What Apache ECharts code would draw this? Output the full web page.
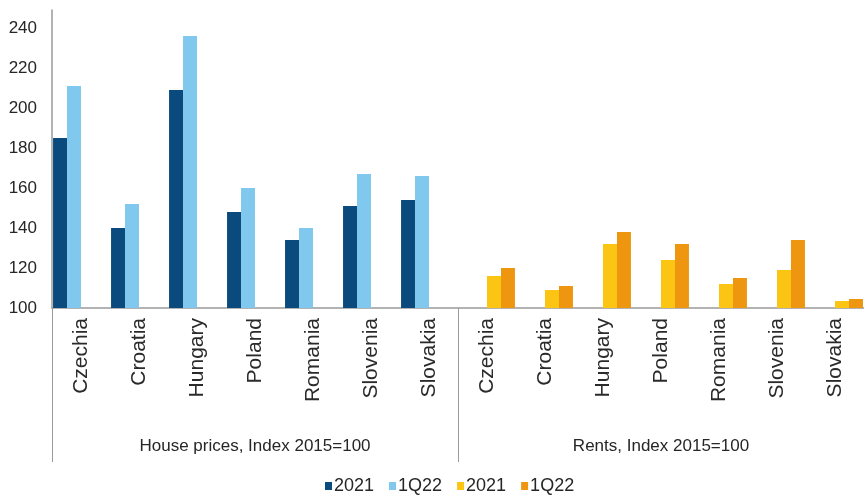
<!DOCTYPE html>
<html>
<head>
<meta charset="utf-8">
<script src="https://cdn.jsdelivr.net/npm/echarts@6/dist/echarts.min.js"></script>
<style>
  html, body { margin: 0; padding: 0; background: #fff; }
  #main { width: 864px; height: 504px; }
</style>
</head>
<body>
<div id="main"></div>
<script>
var countries = ['Czechia', 'Croatia', 'Hungary', 'Poland', 'Romania', 'Slovenia', 'Slovakia'];
var groups = ['House prices, Index 2015=100', 'Rents, Index 2015=100'];
var house2021 = [185, 140, 209, 148, 134, 151, 154];
var house1Q22 = [211, 152, 236, 160, 140, 167, 166];
var rent2021 = [116, 109, 132, 124, 112, 119, 103.5];
var rent1Q22 = [120, 111, 138, 132, 115, 134, 104.5];
var yTicks = [100, 120, 140, 160, 180, 200, 220, 240];

var font = "'Liberation Sans', Arial, sans-serif";
var empty = countries.map(function () { return null; });
var categories = countries.concat(countries);

var chart = echarts.init(document.getElementById('main'));

var option = {
    animation: false,
    textStyle: { fontFamily: font, color: '#262626' },
    grid: { left: 52, right: -12, top: 10, bottom: 196 },
    legend: {
        bottom: 4,
        left: 320,
        icon: 'rect',
        itemWidth: 7,
        itemHeight: 8,
        itemGap: 15,
        textStyle: { fontFamily: font, fontSize: 18, color: '#262626', padding: [0, 0, 0, -3] },
        formatter: function (n) { return n.trim(); },
        data: ['2021', '1Q22', '2021 ', '1Q22 ']
    },
    xAxis: [{
        type: 'category',
        data: categories,
        axisLine: { lineStyle: { color: '#9a9a9a', width: 1.5 } },
        axisTick: { show: false },
        axisLabel: {
            interval: 0,
            rotate: 90,
            margin: 10,
            fontFamily: font,
            fontSize: 21,
            color: '#2a2a2a'
        }
    }, {
        type: 'category',
        data: groups,
        position: 'bottom',
        axisLine: { show: false },
        axisTick: { show: true, length: 154, lineStyle: { color: '#9a9a9a' } },
        axisLabel: {
            interval: 0,
            margin: 130,
            fontFamily: font,
            fontSize: 17,
            color: '#262626'
        }
    }],
    yAxis: {
        type: 'value',
        min: yTicks[0],
        max: 249,
        interval: 20,
        axisLine: { show: true, lineStyle: { color: '#9a9a9a', width: 1.5 } },
        axisTick: { show: false },
        splitLine: { show: false },
        axisLabel: {
            showMaxLabel: false,
            margin: 15,
            fontFamily: font,
            fontSize: 17,
            color: '#262626'
        }
    },
    series: [{
        name: '2021',
        type: 'bar',
        barGap: '0%',
        barCategoryGap: '3.6%',
        itemStyle: { color: '#0b4a7c' },
        data: house2021.concat(empty)
    }, {
        name: '1Q22',
        type: 'bar',
        itemStyle: { color: '#80c8ee' },
        data: house1Q22.concat(empty)
    }, {
        name: '2021 ',
        type: 'bar',
        itemStyle: { color: '#fcc413' },
        data: empty.concat(rent2021)
    }, {
        name: '1Q22 ',
        type: 'bar',
        itemStyle: { color: '#ee9610' },
        data: empty.concat(rent1Q22)
    }]
};

chart.setOption(option);
</script>
</body>
</html>
